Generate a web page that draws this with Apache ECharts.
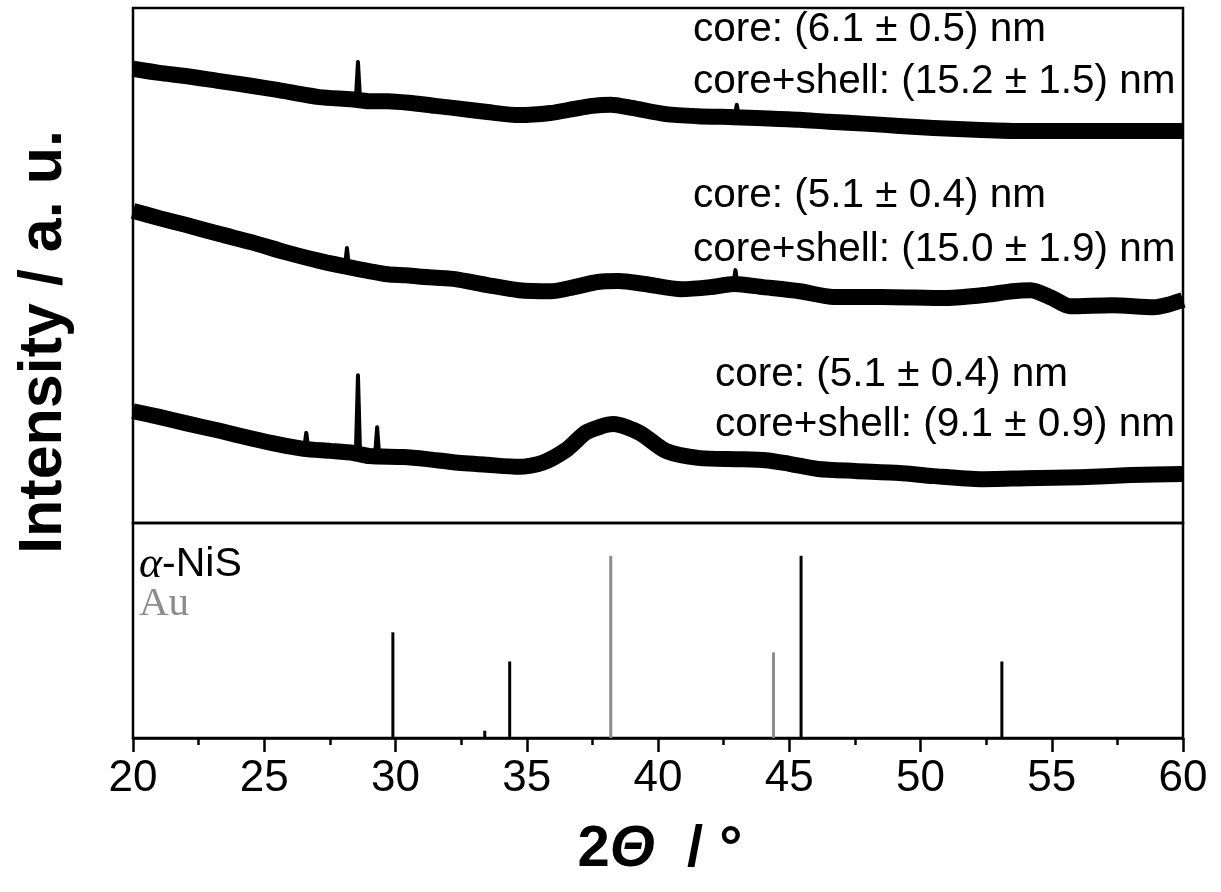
<!DOCTYPE html>
<html><head><meta charset="utf-8">
<script src="https://cdn.jsdelivr.net/npm/echarts/dist/echarts.min.js"></script>
<style>html,body{margin:0;padding:0;background:#fff}#c{width:1221px;height:892px}</style>
</head><body><div id="c"></div>
<script>
// ---- data (2θ in degrees, intensity in arbitrary units) ----
const trace1X = [20.0,21.0,22.0,23.3,24.5,25.5,27.1,28.3,29.0,29.7,30.5,31.5,32.2,33.5,34.7,35.9,36.8,37.5,38.2,39.0,40.3,41.5,42.9,44.0,45.4,46.5,48.0,49.2,50.5,52.3,54.0,56.1,58.0,60.0];
const trace1Y = [88.2,87.4,86.8,85.8,84.9,84.1,82.7,82.3,81.9,81.9,81.6,81.0,80.6,79.8,79.2,79.6,80.4,81.0,81.2,80.6,79.4,79.0,78.8,78.6,78.3,77.9,77.5,77.1,76.7,76.3,76.1,76.1,76.1,76.1];
const trace2X = [20.0,21.0,22.0,23.3,24.6,25.8,27.1,28.4,29.7,30.4,31.0,32.2,33.5,34.7,35.9,36.8,37.7,38.5,39.5,40.9,42.0,42.9,44.0,45.4,46.7,48.5,51.0,52.5,53.5,54.2,55.0,55.7,57.3,58.9,60.0];
const trace2Y = [60.6,59.2,57.9,56.1,54.4,52.6,50.9,49.5,48.3,48.1,47.8,47.4,46.2,45.2,45.0,45.8,46.8,47.0,46.4,45.4,45.8,46.4,45.8,45.0,43.9,43.9,43.7,44.3,45.0,45.2,43.7,42.1,42.3,41.9,43.3];
const trace3X = [20.0,21.0,22.0,23.3,24.6,25.5,26.5,27.5,28.4,29.0,30.3,31.2,32.2,33.5,34.7,35.6,36.5,37.3,38.3,39.3,40.3,41.6,43.0,44.1,45.0,46.1,47.5,49.2,50.5,52.3,54.0,56.1,58.0,60.0];
const trace3Y = [21.7,20.6,19.4,17.9,16.3,15.3,14.4,14.0,13.6,13.0,12.8,12.4,11.8,11.3,10.9,11.7,14.2,17.7,19.2,17.5,14.0,12.6,12.4,12.2,11.5,10.5,10.1,9.7,9.1,8.5,8.7,8.9,9.3,9.5];
// sharp reflections on top of the traces
const spikeX    = [28.57, 43.0, 28.15, 42.95, 26.6, 28.57, 29.3];
const spikeTop  = [89.5, 81.2, 53.4, 49.1, 17.5, 28.7, 18.6];
const spikeBase = [82.3, 79.0, 49.6, 46.3, 14.4, 13.6, 13.0];
// reference patterns
const nisX = [29.9, 33.4, 34.35, 45.45, 53.1];
const nisY = [58, 4, 42, 100, 42];
const auX = [38.2, 44.4];
const auY = [100, 47];
const xTicks = {min: 20, max: 60, interval: 5};
const labels = [
  ['core: (6.1 ± 0.5) nm', 'core+shell: (15.2 ± 1.5) nm'],
  ['core: (5.1 ± 0.4) nm', 'core+shell: (15.0 ± 1.9) nm'],
  ['core: (5.1 ± 0.4) nm', 'core+shell: (9.1 ± 0.9) nm']
];

const zip = (a, b) => a.map((v, i) => [v, b[i]]);
const chart = echarts.init(document.getElementById('c'), null, {renderer: 'canvas'});
const FONT = '"Liberation Sans", Arial, sans-serif';

const series = [];
[[trace1X, trace1Y], [trace2X, trace2Y], [trace3X, trace3Y]].forEach(([x, y]) => {
  series.push({type: 'line', xAxisIndex: 0, yAxisIndex: 0, data: zip(x, y), showSymbol: false, symbol: 'none',
    smooth: 0.25, silent: true, lineStyle: {color: '#000', width: 16, join: 'round', cap: 'butt'}});
});
spikeX.forEach((sx, i) => {
  series.push({type: 'line', xAxisIndex: 0, yAxisIndex: 0, showSymbol: false, symbol: 'none', silent: true,
    data: [[sx - 0.08, spikeBase[i]], [sx, spikeTop[i]], [sx + 0.08, spikeBase[i]]],
    lineStyle: {color: '#000', width: 4, join: 'round', cap: 'round'}});
});
series.push({type: 'bar', xAxisIndex: 1, yAxisIndex: 1, data: zip(nisX, nisY), barWidth: 3, silent: true,
  itemStyle: {color: '#000'}});
series.push({type: 'bar', xAxisIndex: 1, yAxisIndex: 1, data: zip(auX, auY), barWidth: 3, silent: true,
  barGap: '-100%', itemStyle: {color: '#8c8c8c'}});

const annot = [];
const blockPos = [[693, 30, 82], [693, 196, 250], [715, 375, 425]];
labels.forEach((lines, i) => {
  const [x, y1, y2] = blockPos[i];
  [y1, y2].forEach((yy, j) => annot.push({type: 'text', x: x, y: yy, silent: true,
    style: {text: lines[j], fontSize: 40.5, fontFamily: FONT, fill: '#000', align: 'left', verticalAlign: 'middle'}}));
});

chart.setOption({
  animation: false,
  backgroundColor: '#fff',
  grid: [
    {left: 133, right: 38, top: 8, height: 515, show: true, borderColor: '#000', borderWidth: 2.5},
    {left: 133, right: 38, top: 523, height: 215, show: true, borderColor: '#000', borderWidth: 2.5}
  ],
  xAxis: [
    {gridIndex: 0, type: 'value', min: xTicks.min, max: xTicks.max, interval: xTicks.interval, show: false},
    {gridIndex: 1, type: 'value', min: xTicks.min, max: xTicks.max, interval: xTicks.interval,
      axisLine: {show: true, onZero: false, lineStyle: {color: '#000', width: 2.5}},
      axisTick: {show: true, inside: false, length: 14, lineStyle: {color: '#000', width: 2.5}},
      minorTick: {show: true, splitNumber: 2, length: 7, lineStyle: {color: '#000', width: 2.5}},
      splitLine: {show: false},
      axisLabel: {color: '#000', fontSize: 44, fontFamily: FONT, margin: 19}}
  ],
  yAxis: [
    {gridIndex: 0, type: 'value', min: 0, max: 100, show: false},
    {gridIndex: 1, type: 'value', min: 0, max: 118, show: false}
  ],
  series: series,
  graphic: annot.concat([
    {type: 'text', x: 139, y: 565, silent: true, style: {
      text: '{a|α}{n|-NiS}', verticalAlign: 'middle', align: 'left',
      rich: {a: {fontFamily: '"Liberation Serif", serif', fontStyle: 'italic', fontSize: 44, fill: '#000'},
             n: {fontFamily: FONT, fontSize: 41, fill: '#000'}}}},
    {type: 'text', x: 139, y: 604, silent: true, style: {
      text: 'Au', fontFamily: '"Liberation Serif", serif', fontSize: 41, fill: '#8c8c8c', verticalAlign: 'middle', align: 'left'}},
    {type: 'text', x: 660, y: 850, silent: true, style: {
      text: '{b|2}{t|Θ}{b|  / °}', align: 'center', verticalAlign: 'middle',
      rich: {b: {fontFamily: FONT, fontWeight: 'bold', fontSize: 58, fill: '#000'},
             t: {fontFamily: FONT, fontWeight: 'bold', fontStyle: 'italic', fontSize: 58, fill: '#000'}}}},
    {type: 'text', x: 44, y: 342, rotation: Math.PI / 2, silent: true, style: {
      text: 'Intensity / a. u.', fontFamily: FONT, fontWeight: 'bold', fontSize: 61, fill: '#000',
      align: 'center', verticalAlign: 'middle'}}
  ])
});
</script>
</body></html>
